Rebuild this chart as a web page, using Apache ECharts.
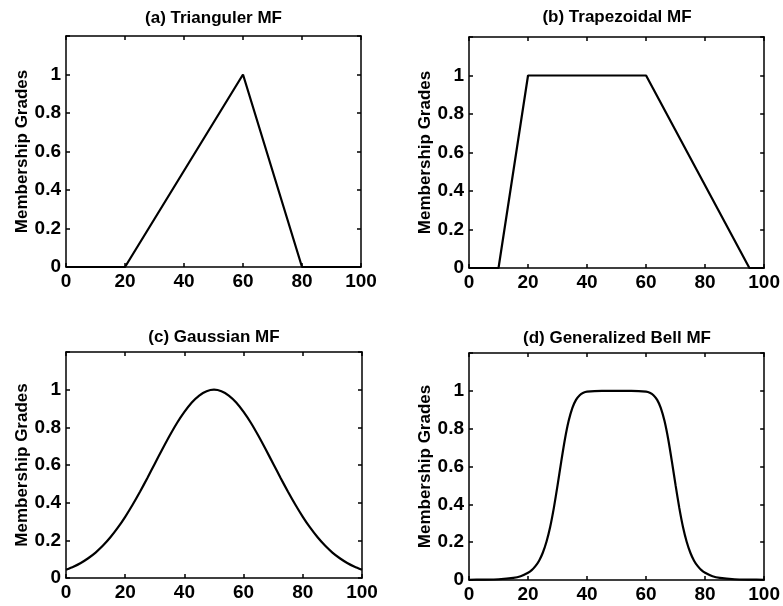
<!DOCTYPE html>
<html>
<head>
<meta charset="utf-8">
<script src="https://cdn.jsdelivr.net/npm/echarts@6/dist/echarts.min.js"></script>
<style>
html,body{margin:0;padding:0;background:#fff;}
#c{width:783px;height:606px;}
</style>
</head>
<body>
<div id="c"></div>
<script>
// ---- data ----
const titles = ['(a) Trianguler MF', '(b) Trapezoidal MF', '(c) Gaussian MF', '(d) Generalized Bell MF'];
const yAxisName = 'Membership Grades';

const triX = [0, 20, 60, 80, 100];
const triY = [0, 0, 1, 0, 0];

const trapX = [0, 10, 20, 60, 95, 100];
const trapY = [0, 0, 1, 1, 0, 0];

const gaussX = [0, 2.5, 5, 7.5, 10, 12.5, 15, 17.5, 20, 22.5, 25, 27.5, 30, 32.5, 35, 37.5, 40, 42.5, 45, 47.5, 50,
                52.5, 55, 57.5, 60, 62.5, 65, 67.5, 70, 72.5, 75, 77.5, 80, 82.5, 85, 87.5, 90, 92.5, 95, 97.5, 100];
const gaussY = [0.044, 0.060, 0.080, 0.105, 0.135, 0.172, 0.216, 0.267, 0.325, 0.389, 0.458, 0.531, 0.607, 0.682, 0.755, 0.823, 0.882, 0.932, 0.969, 0.992, 1,
                0.992, 0.969, 0.932, 0.882, 0.823, 0.755, 0.682, 0.607, 0.531, 0.458, 0.389, 0.325, 0.267, 0.216, 0.172, 0.135, 0.105, 0.080, 0.060, 0.044];

const bellX = [0, 5, 10, 15, 17.5, 20, 21.25, 22.5, 23.75, 25, 26.25, 27.5, 28.75, 30, 31.25, 32.5, 33.75, 35, 36.25, 37.5, 38.75, 40, 45, 50,
               55, 60, 61.25, 62.5, 63.75, 65, 66.25, 67.5, 68.75, 70, 71.25, 72.5, 73.75, 75, 76.25, 77.5, 78.75, 80, 82.5, 85, 90, 95, 100];
const bellY = [0.001, 0.002, 0.004, 0.011, 0.020, 0.038, 0.052, 0.073, 0.102, 0.144, 0.202, 0.280, 0.381, 0.5, 0.626, 0.744, 0.840, 0.909, 0.952, 0.977, 0.990, 0.996, 1, 1,
               1, 0.996, 0.990, 0.977, 0.952, 0.909, 0.840, 0.744, 0.626, 0.5, 0.381, 0.280, 0.202, 0.144, 0.102, 0.073, 0.052, 0.038, 0.020, 0.011, 0.004, 0.002, 0.001];

const seriesX = [triX, trapX, gaussX, bellX];
const seriesY = [triY, trapY, gaussY, bellY];
const smoothFlags = [false, false, 0.2, 0.2];

// ---- layout ----
const grids = [
  {left: 66, top: 36, width: 295, height: 231},
  {left: 469, top: 37, width: 296, height: 231},
  {left: 66, top: 352, width: 296, height: 226},
  {left: 469, top: 353, width: 296, height: 227}
];
const titleTops = [10, 9, 329, 330];
const FONT = '"Liberation Sans", Arial, Helvetica, sans-serif';

const option = {
  backgroundColor: '#fff',
  animation: false,
  title: [], grid: [], xAxis: [], yAxis: [], series: []
};

const lineCol = '#000';
grids.forEach((g, i) => {
  option.grid.push(Object.assign({containLabel: false}, g));
  option.title.push({
    text: titles[i],
    left: g.left + g.width / 2,
    top: titleTops[i],
    textAlign: 'center',
    padding: 0,
    textStyle: {fontFamily: FONT, fontSize: 17, fontWeight: 'bold', color: '#000'}
  });
  const common = {
    type: 'value', gridIndex: i, splitLine: {show: false},
    axisLine: {show: true, onZero: false, lineStyle: {color: lineCol, width: 1.5}},
    axisTick: {show: true, inside: true, length: 4, lineStyle: {color: lineCol, width: 1.5}}
  };
  option.xAxis.push(Object.assign({}, common, {
    position: 'bottom', min: 0, max: 100, interval: 20,
    axisLabel: {show: true, margin: 5, showMinLabel: true, showMaxLabel: true,
      fontFamily: FONT, fontSize: 19, fontWeight: 'bold', color: '#000'}
  }));
  option.xAxis.push(Object.assign({}, common, {
    position: 'top', min: 0, max: 100, interval: 20,
    axisLabel: {show: false}
  }));
  option.yAxis.push(Object.assign({}, common, {
    position: 'left', min: 0, max: 1.2, interval: 0.2,
    name: yAxisName, nameLocation: 'middle', nameGap: 34, nameRotate: 90,
    nameTextStyle: {fontFamily: FONT, fontSize: 17, fontWeight: 'bold', color: '#000'},
    axisLabel: {show: true, margin: 5, showMaxLabel: true,
      fontFamily: FONT, fontSize: 19, fontWeight: 'bold', color: '#000',
      formatter: v => (v > 1.1 ? '' : String(+v.toFixed(1)))}
  }));
  option.yAxis.push(Object.assign({}, common, {
    position: 'right', min: 0, max: 1.2, interval: 0.2,
    axisLabel: {show: false}
  }));
  option.series.push({
    type: 'line',
    xAxisIndex: i * 2, yAxisIndex: i * 2,
    data: seriesX[i].map((x, k) => [x, seriesY[i][k]]),
    showSymbol: false, symbol: 'none',
    smooth: smoothFlags[i],
    lineStyle: {color: '#000', width: 2.2},
    clip: true
  });
});

const chart = echarts.init(document.getElementById('c'), null, {renderer: 'canvas'});
chart.setOption(option);
</script>
</body>
</html>
